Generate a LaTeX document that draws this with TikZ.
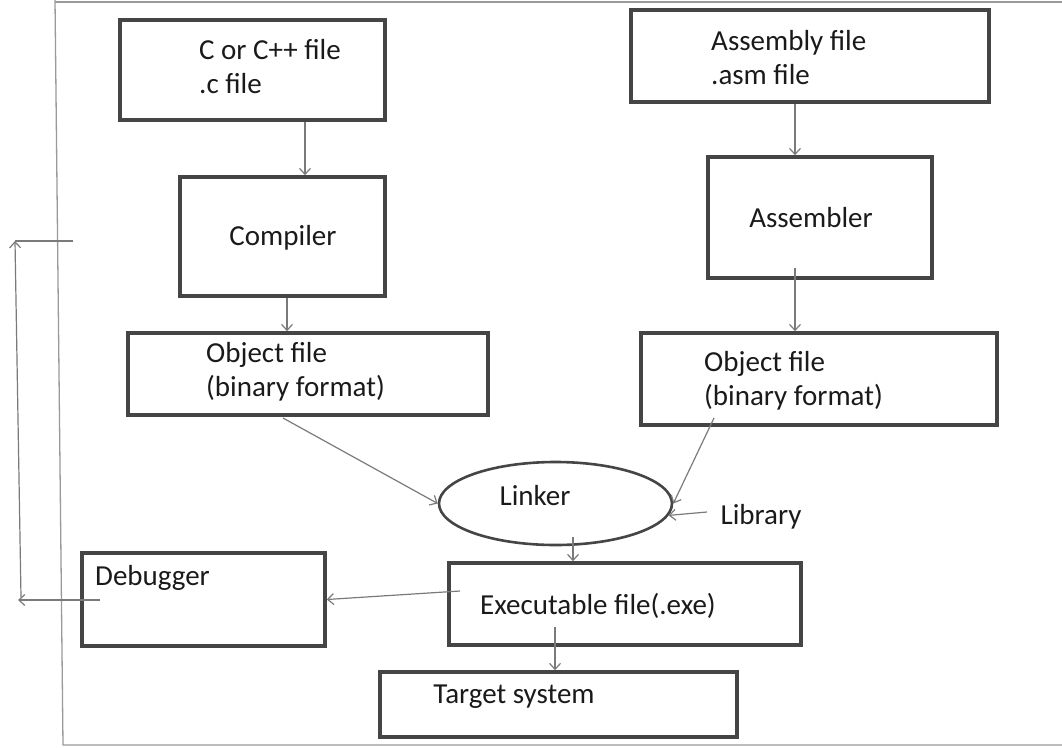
\documentclass[tikz,border=0pt]{standalone}
\usepackage{fontspec}
\setmainfont{Carlito}
\usetikzlibrary{arrows.meta,shapes.geometric}
\definecolor{boxc}{HTML}{454545}
\definecolor{linec}{HTML}{7A7A7A}
\definecolor{framec}{HTML}{9A9A9A}
\definecolor{txtc}{HTML}{1A1A1A}
\begin{document}
\begin{tikzpicture}[x=1pt,y=-1pt,
  box/.style={draw=boxc,line width=3.6pt,rectangle,inner sep=0pt},
  oval/.style={draw=boxc,line width=2.6pt,ellipse,inner sep=0pt},
  lbl/.style={text=txtc,inner sep=0pt,align=left,font=\fontsize{29}{34}\selectfont},
  conn/.style={draw=linec,line width=1.2pt,-{Straight Barb[length=6pt,width=11pt]}},
  plain/.style={draw=linec,line width=1.2pt},
  frame/.style={draw=framec,line width=1.3pt}]
\useasboundingbox (0,0) rectangle (1062,747);
% frame
\draw[frame] (55,0) -- (63,745) -- (1062,745);
\draw[frame] (55,2) -- (1062,2);
% boxes
\node[box,minimum width=265,minimum height=100] (cfile) at (252.5,70) {};
\node[box,minimum width=205,minimum height=119] (comp) at (282.5,236.5) {};
\node[box,minimum width=360,minimum height=82] (objL) at (308,374) {};
\node[box,minimum width=358,minimum height=92] (asm) at (810,56) {};
\node[box,minimum width=224,minimum height=121] (asmb) at (820,217.5) {};
\node[box,minimum width=356,minimum height=92] (objR) at (819,379) {};
\node[oval,minimum width=233,minimum height=83] (linker) at (555.5,503.5) {};
\node[box,minimum width=352,minimum height=82] (exe) at (625,604) {};
\node[box,minimum width=243,minimum height=93] (dbg) at (203.5,599.5) {};
\node[box,minimum width=357,minimum height=65] (tgt) at (558.5,704.5) {};
% labels
\node[lbl,anchor=west] (tcfile) at (199,67) {C or C++ file\\.c file};
\node[lbl] (tcomp) at (283,238) {Compiler};
\node[lbl,anchor=west] (tobjL) at (206,372) {Object file\\(binary format)};
\node[lbl,anchor=west] (tasm) at (711,58) {Assembly file\\.asm file};
\node[lbl] (tasmb) at (811,218) {Assembler};
\node[lbl,anchor=west] (tobjR) at (704,381) {Object file\\(binary format)};
\node[lbl] (tlinker) at (535,496) {Linker};
\node[lbl] (tlib) at (761,517) {Library};
\node[lbl] (texe) at (598,606) {Executable file(.exe)};
\node[lbl,anchor=west] (tdbg) at (95,578) {Debugger};
\node[lbl] (ttgt) at (514,697) {Target system};
% connector coordinates
\coordinate (oLs) at (283,418);
\coordinate (oRs) at (714,418);
\coordinate (libw) at (707,512);
\coordinate (exeL) at (460,591);
\coordinate (dbgin) at (100,600);
\coordinate (loopA) at (18,600);
\coordinate (loopB) at (21,597);
\coordinate (loopC) at (15,241);
\coordinate (loopD) at (73,241);
% connectors
\draw[conn] (cfile.south -| 305,0) -- (comp.north -| 305,0);
\draw[conn] (comp.south -| 287,0) -- (objL.north -| 287,0);
\draw[conn] (asm.south -| 795,0) -- (asmb.north -| 795,0);
\draw[conn] (795,268) -- (objR.north -| 795,0);
\draw[conn] (oLs) -- (linker.west);
\draw[conn] (oRs) -- (linker.east);
\draw[conn] (libw) -- (linker.-6);
\draw[conn] (573,537) -- (exe.north -| 573,0);
\draw[conn] (exeL) -- (dbg.east);
\draw[conn] (555,627) -- (tgt.north -| 555,0);
\draw[conn] (dbgin) -- (loopA);
\draw[conn] (loopB) -- (loopC);
\draw[plain] (loopC) -- (loopD);
\end{tikzpicture}
\end{document}
